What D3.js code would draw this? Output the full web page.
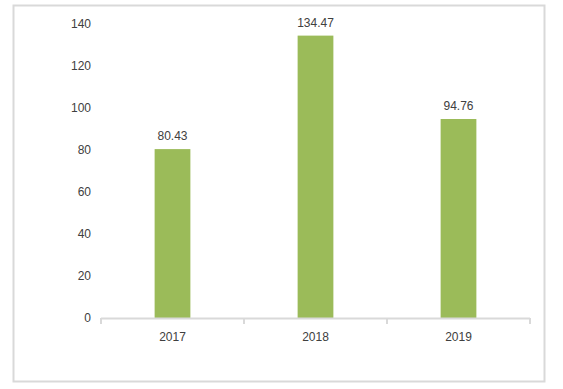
<!DOCTYPE html>
<html>
<head>
<meta charset="utf-8">
<script src="https://cdn.jsdelivr.net/npm/d3@7"></script>
<style>
	body { margin: 0; background: #fff; }
	svg text { font-family: "Liberation Sans", Arial, sans-serif; font-size: 12px; fill: #404040; }
</style>
</head>
<body>
<svg id="chart" width="563" height="389"></svg>
<script>
var years = ["2017", "2018", "2019"];
var values = [80.43, 134.47, 94.76];
var yTicks = [0, 20, 40, 60, 80, 100, 120, 140];

var svg = d3.select('#chart');

// outer frame
svg.append('rect')
	.attr("x", 13.5)
	.attr("y", 5.5)
	.attr("width", 531)
	.attr("height", 376)
	.style("fill", "#fff")
	.style("stroke", "#d9d9d9")
	.style("stroke-width", 2);

var x = d3.scaleBand().domain(years).range([101, 530]).paddingInner(0.75).paddingOuter(0.375);
var y = d3.scaleLinear().domain([0, 140]).range([318, 24]);

// y labels
svg.selectAll('text.ytick')
	.data(yTicks)
	.enter().append('text')
	.attr("class", "ytick")
	.attr("x", 91)
	.attr("y", function(d){ return y(d); })
	.attr("dy", "0.35em")
	.attr("text-anchor", "end")
	.text(function(d){ return d; });

// bars
svg.selectAll('rect.bar')
	.data(values)
	.enter().append('rect')
	.attr("class", "bar")
	.attr("x", function(d, i){ return x(years[i]); })
	.attr("y", function(d){ return y(d); })
	.attr("width", x.bandwidth())
	.attr("height", function(d){ return y(0) - y(d); })
	.style("fill", "#9bbb59");

// value labels
svg.selectAll('text.val')
	.data(values)
	.enter().append('text')
	.attr("class", "val")
	.attr("x", function(d, i){ return x(years[i]) + x.bandwidth() / 2; })
	.attr("y", function(d){ return y(d) - 9; })
	.attr("text-anchor", "middle")
	.text(function(d){ return d.toFixed(2); });

// x axis
var step = x.step();
var bounds = [101];
for(var i = 0; i < years.length; i++){
	bounds.push(101 + step * (i + 1) * (429 / (step * years.length)));
}
svg.append('line')
	.attr("x1", 101).attr("x2", 530)
	.attr("y1", 318.5).attr("y2", 318.5)
	.style("stroke", "#d9d9d9").style("stroke-width", 2);
svg.selectAll('line.xt')
	.data(bounds)
	.enter().append('line')
	.attr("class", "xt")
	.attr("x1", function(d){ return d; }).attr("x2", function(d){ return d; })
	.attr("y1", 318).attr("y2", 324)
	.style("stroke", "#d9d9d9").style("stroke-width", 2);

svg.selectAll('text.xl')
	.data(years)
	.enter().append('text')
	.attr("class", "xl")
	.attr("x", function(d){ return x(d) + x.bandwidth() / 2; })
	.attr("y", 341)
	.attr("text-anchor", "middle")
	.text(function(d){ return d; });
</script>
</body>
</html>
